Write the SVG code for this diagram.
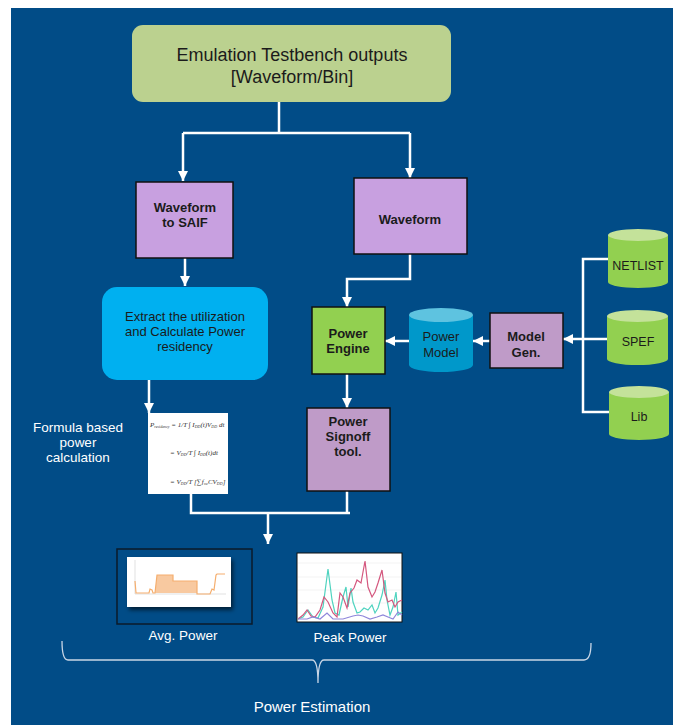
<svg xmlns="http://www.w3.org/2000/svg" width="673" height="725" viewBox="0 0 673 725">
<defs>
<style>
.bg{fill:#014C87}
.box{stroke:#111;stroke-width:1.5}
.lav{fill:#C8A0E0}
.mauve{fill:#BF9BC8}
.green{fill:#92D050}
.conn{fill:none;stroke:#fff;stroke-width:2.5}
.t{font-family:"Liberation Sans","Noto Sans",Arial,sans-serif;text-anchor:middle;fill:#1b1b1b}
.b{font-weight:bold;font-size:13px}
.w{fill:#fff}
.f{font-family:"Liberation Serif","Times New Roman",serif;font-size:7px;font-style:italic;fill:#333}
</style>
<marker id="ah" markerUnits="userSpaceOnUse" markerWidth="10" markerHeight="10" refX="10" refY="5" orient="auto" viewBox="0 0 10 10">
<path d="M0,0 L10,5 L0,10 z" fill="#fff"/>
</marker>
<filter id="sh" x="-20%" y="-20%" width="140%" height="150%">
<feDropShadow dx="2" dy="3" stdDeviation="2" flood-color="#000" flood-opacity="0.6"/>
</filter>
</defs>
<rect x="11" y="8" width="662" height="717" class="bg"/>

<g id="connectors">
<path class="conn" d="M279,102 V133 M183,133 H410"/>
<path class="conn" d="M183,133 V181" marker-end="url(#ah)"/>
<path class="conn" d="M410,133 V178" marker-end="url(#ah)"/>
<path class="conn" d="M185,258 V286" marker-end="url(#ah)"/>
<path class="conn" d="M410,254 V279 H347 V307" marker-end="url(#ah)"/>
<path class="conn" d="M347,374 V408" marker-end="url(#ah)"/>
<path class="conn" d="M409,341 H385" marker-end="url(#ah)"/>
<path class="conn" d="M490,341 H473" marker-end="url(#ah)"/>
<path class="conn" d="M608,259 H583 V412 H609"/>
<path class="conn" d="M608,339 H563" marker-end="url(#ah)"/>
<path class="conn" d="M149,380 V413" marker-end="url(#ah)"/>
<path class="conn" d="M191,494 V513 H350 M347,491 V513"/>
<path class="conn" d="M268,513 V544" marker-end="url(#ah)"/>
</g>

<g id="testbench">
<rect x="132" y="25" width="319" height="77" rx="11" fill="#BBD18F"/>
<text class="t" x="292" y="61" font-size="18">Emulation Testbench outputs</text>
<text class="t" x="292" y="83" font-size="18">[Waveform/Bin]</text>
</g>

<g id="waveform-to-saif">
<rect x="136" y="182" width="97" height="76" class="box lav"/>
<text class="t b" x="185" y="212">Waveform</text>
<text class="t b" x="185" y="227">to SAIF</text>
</g>

<g id="waveform">
<rect x="354" y="178" width="113" height="76" class="box lav"/>
<text class="t b" x="410" y="224">Waveform</text>
</g>

<g id="extract">
<rect x="102" y="287" width="166" height="93" rx="15" fill="#00B0F0"/>
<text class="t" x="185" y="321" font-size="13">Extract the utilization</text>
<text class="t" x="185" y="336" font-size="13">and Calculate Power</text>
<text class="t" x="185" y="351" font-size="13">residency</text>
</g>

<g id="power-engine">
<rect x="312" y="307" width="73" height="67" class="box green"/>
<text class="t b" x="348" y="338">Power</text>
<text class="t b" x="348" y="353">Engine</text>
</g>

<g id="power-model">
<path d="M409,315 V365 A32,7 0 0 0 473,365 V315 Z" fill="#0098CA"/>
<ellipse cx="441" cy="315" rx="32" ry="7" fill="#5EC3E0"/>
<text class="t" x="441" y="341" font-size="13" fill="#13304d">Power</text>
<text class="t" x="441" y="357" font-size="13" fill="#13304d">Model</text>
</g>

<g id="model-gen">
<rect x="490" y="313" width="73" height="55" class="box mauve"/>
<text class="t b" x="526" y="341">Model</text>
<text class="t b" x="526" y="357">Gen.</text>
</g>

<g id="netlist">
<path d="M608,235 V282 A30,6 0 0 0 668,282 V235 Z" fill="#92D050"/>
<ellipse cx="638" cy="235" rx="30" ry="6" fill="#C4E29A"/>
<text class="t" x="638" y="270" font-size="12.5">NETLIST</text>
</g>

<g id="spef">
<path d="M607,316 V359 A30,6 0 0 0 668,359 V316 Z" fill="#92D050"/>
<ellipse cx="637.5" cy="316" rx="30.5" ry="6" fill="#C4E29A"/>
<text class="t" x="638" y="346" font-size="12.5">SPEF</text>
</g>

<g id="lib">
<path d="M609,392 V434 A30,6 0 0 0 669,434 V392 Z" fill="#92D050"/>
<ellipse cx="639" cy="392" rx="30" ry="6" fill="#C4E29A"/>
<text class="t" x="639" y="421" font-size="12.5">Lib</text>
</g>

<g id="power-signoff">
<rect x="307" y="408" width="83" height="83" class="box mauve"/>
<text class="t b" x="348" y="426">Power</text>
<text class="t b" x="348" y="441">Signoff</text>
<text class="t b" x="348" y="456">tool.</text>
</g>

<g id="formula-label">
<text class="t w" x="78" y="432" font-size="13.5">Formula based</text>
<text class="t w" x="78" y="447" font-size="13.5">power</text>
<text class="t w" x="78" y="462" font-size="13.5">calculation</text>
</g>

<g id="formula">
<rect x="148" y="413" width="80" height="81" fill="#fff"/>
<text class="f" x="150" y="427">P<tspan font-size="4" dy="1">residency</tspan><tspan dy="-1"> = </tspan><tspan>1/T ∫ I</tspan><tspan font-size="4" dy="1">DD</tspan><tspan dy="-1">(t)V</tspan><tspan font-size="4" dy="1">DD</tspan><tspan dy="-1"> dt</tspan></text>
<text class="f" x="170" y="455">= V<tspan font-size="4" dy="1">DD</tspan><tspan dy="-1">/T ∫ I</tspan><tspan font-size="4" dy="1">DD</tspan><tspan dy="-1">(t)dt</tspan></text>
<text class="f" x="170" y="484">= V<tspan font-size="4" dy="1">DD</tspan><tspan dy="-1">/T [∑f</tspan><tspan font-size="4" dy="1">sw</tspan><tspan dy="-1">CV</tspan><tspan font-size="4" dy="1">DD</tspan><tspan dy="-1">]</tspan></text>
</g>

<g id="avg-power">
<rect x="117" y="549" width="135" height="75" fill="#014C87" stroke="#0b1a2a" stroke-width="1.5"/>
<rect x="127" y="557" width="104" height="50" fill="#fff" filter="url(#sh)"/>
<path d="M135,560 V594 H226" fill="none" stroke="#ccc" stroke-width="0.6"/>
<path d="M155,593 L157,575 H173 V581 H197 V593 Z" fill="#F8C9A0"/>
<polyline points="135,581 136,593 149,593 150,589 152,590 153,593 155,593 157,575 173,575 173,581 197,581 197,594 210,594 212,589 214,590 216,575 217,574 225,574" fill="none" stroke="#F5AE6E" stroke-width="1.2"/>
<text class="t w" x="183" y="640" font-size="13.5">Avg. Power</text>
</g>

<g id="peak-power">
<rect x="297" y="553" width="105" height="69" fill="#fff" stroke="#111" stroke-width="1"/>
<path d="M298,563 H401 M298,577 H401 M298,590 H401 M298,603 H401" stroke="#eee" stroke-width="0.7"/>
<polyline fill="none" stroke="#4FD3BF" stroke-width="1.2" points="298,619 303,617 308,610 313,617 318,618 323,607 328,569 332,600 335,613 339,615 343,597 346,587 348,607 351,588 353,602 357,613 360,612 364,608 368,610 372,605 375,613 378,608 382,595 385,580 387,600 390,615 393,607 396,592 398,615 402,612"/>
<polyline fill="none" stroke="#D4577E" stroke-width="1.2" points="298,619 303,615 307,610 311,616 315,617 320,610 324,597 328,602 333,613 337,617 340,593 343,597 347,608 350,593 354,588 357,580 361,583 365,561 368,587 372,597 375,592 378,583 382,570 385,593 388,602 392,600 395,607 398,602 402,600"/>
<polyline fill="none" stroke="#8F86DA" stroke-width="1.2" points="298,619 307,619 313,617 320,619 327,613 333,619 343,619 353,616 358,615 363,616 370,619 377,617 383,615 388,617 393,619 398,612 402,615"/>
<text class="t w" x="350" y="642" font-size="13.5">Peak Power</text>
</g>

<g id="power-estimation">
<path d="M62,641 Q62,660 68,660 H312 Q318,660 318,683 Q318,660 324,660 H584 Q591,660 591,643" fill="none" stroke="#C9D6E6" stroke-width="1.3"/>
<text class="t w" x="312" y="712" font-size="15">Power Estimation</text>
</g>
</svg>
